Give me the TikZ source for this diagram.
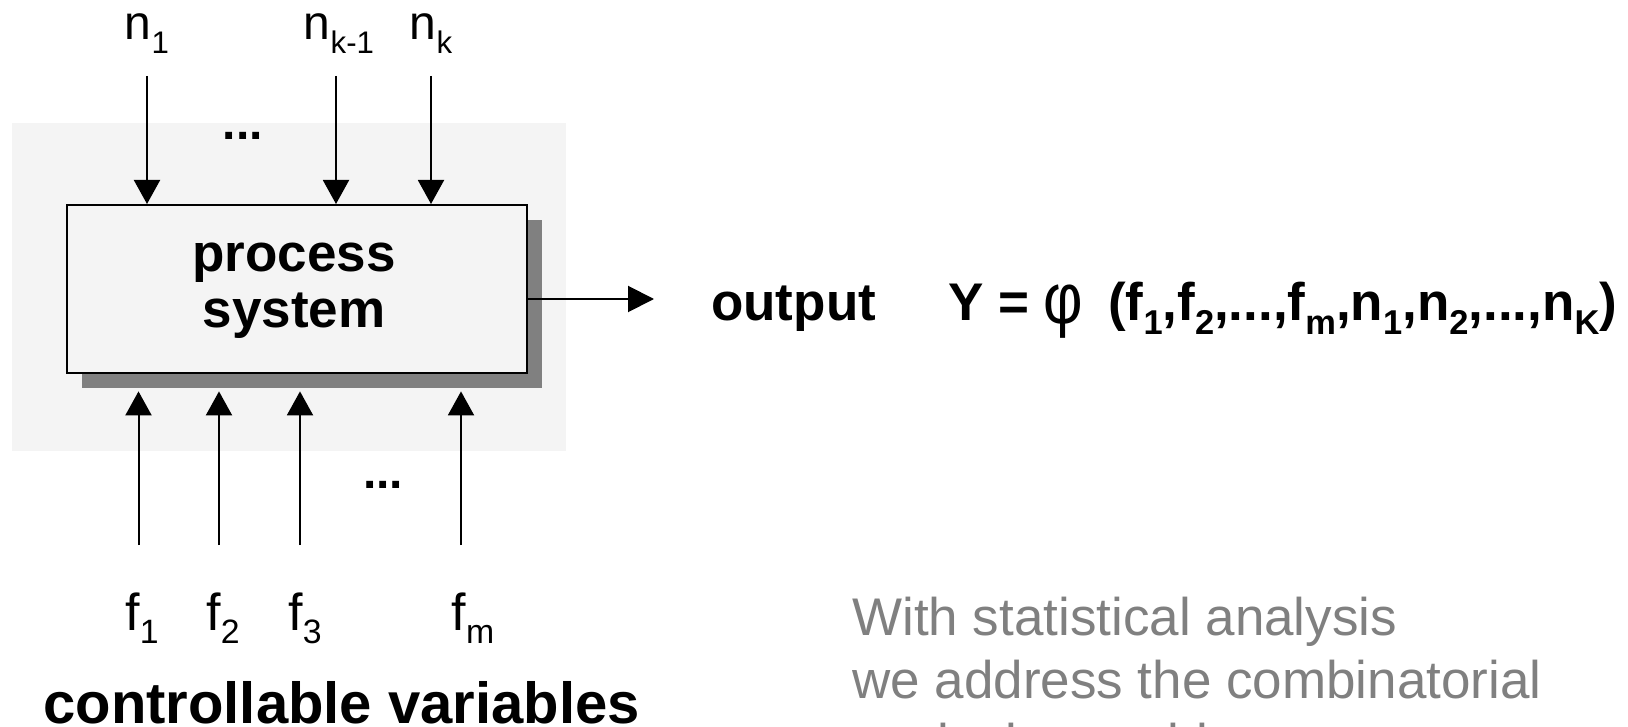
\documentclass[tikz,border=0pt]{standalone}
\usepackage{fontspec}
\usepackage{graphicx}
\setmainfont{Liberation Sans}
\usetikzlibrary{arrows.meta}
\definecolor{bggray}{HTML}{F4F4F4}
\definecolor{shadowgray}{HTML}{808080}
\definecolor{textgray}{HTML}{808080}
\newcommand{\sbx}[1]{\raisebox{-0.28em}{\scalebox{0.65}{#1}}}
\newcommand{\sbf}[1]{\raisebox{-0.25em}{\scalebox{0.65}{#1}}}
\begin{document}
\begin{tikzpicture}[x=1pt,y=-1pt,
  conn/.style={line width=2pt,-{Triangle[length=24pt,width=26pt]}},
  nlbl/.style={inner sep=0pt,anchor=base,font=\fontsize{48}{58}\selectfont},
  flbl/.style={inner sep=0pt,anchor=base,font=\fontsize{52}{62}\selectfont},
  boldtext/.style={inner sep=0pt,font=\fontsize{53}{60}\selectfont\bfseries},
  dotsty/.style={inner sep=0pt,anchor=base,font=\fontsize{48}{58}\selectfont\bfseries},
  graytext/.style={inner sep=0pt,anchor=base west,text=textgray,font=\fontsize{53}{64}\selectfont}
]
\clip (0,0) rectangle (1628,727);
\fill[white] (0,0) rectangle (1628,727);
\fill[bggray] (12,123) rectangle (566,451);
\node[fill=shadowgray, minimum width=460pt, minimum height=168pt, inner sep=0pt, anchor=north west] (shadow) at (82,220) {};
\node[draw, line width=2pt, fill=bggray, minimum width=460pt, minimum height=168pt, inner sep=0pt, anchor=north west] (box) at (66,204) {};
\node[boldtext, anchor=base] (p1) at (294,272) {process};
\node[boldtext, anchor=base] (p2) at (294,327) {system};

% top labels (noise factors)
\node[nlbl] (n1) at (147,40) {n\sbx{1}};
\node[nlbl] (nk1) at (339,40) {n\sbx{k-1}};
\node[nlbl] (nk) at (431,40) {n\sbx{k}};
\node[dotsty] (dtop) at (243,140) {...};
\coordinate (a1) at (147,76);
\coordinate (a2) at (336,76);
\coordinate (a3) at (431,76);
\draw[conn] (a1) -- (box.north -| a1);
\draw[conn] (a2) -- (box.north -| a2);
\draw[conn] (a3) -- (box.north -| a3);

% bottom arrows (controllable)
\coordinate (b1) at (138.5,545);
\coordinate (b2) at (219,545);
\coordinate (b3) at (300,545);
\coordinate (b4) at (461,545);
\draw[conn,shorten >=3pt] (b1) -- (shadow.south -| b1);
\draw[conn,shorten >=3pt] (b2) -- (shadow.south -| b2);
\draw[conn,shorten >=3pt] (b3) -- (shadow.south -| b3);
\draw[conn,shorten >=3pt] (b4) -- (shadow.south -| b4);
\node[dotsty] (dbot) at (383,488) {...};
\node[flbl] (f1) at (142,630) {f\sbf{1}};
\node[flbl] (f2) at (223,630) {f\sbf{2}};
\node[flbl] (f3) at (305,630) {f\sbf{3}};
\node[flbl] (fm) at (473,630) {f\sbf{m}};
\node[inner sep=0pt, anchor=base, font=\fontsize{58}{64}\selectfont\bfseries] (cv) at (341.5,723) {controllable variables};

% output
\coordinate (os) at (526,299);
\coordinate (oe) at (654,299);
\draw[line width=2pt,-{Triangle[length=26pt,width=26pt]}] (os) -- (oe);
\node[boldtext, anchor=base west] (out) at (711,320) {output};
\node[boldtext, anchor=base west] (formula) at (948,320) {Y = {\mdseries\raisebox{-0.06em}{\scalebox{1.15}[1.35]{φ}}}\hspace{10pt}\ (f\sbx{1},f\sbx{2},...,f\sbx{m},n\sbx{1},n\sbx{2},...,n\sbx{K})};

% gray remark
\node[graytext] (g1) at (852,635) {With statistical analysis};
\node[graytext] (g2) at (852,698) {we address the combinatorial};
\node[graytext] (g3) at (852,761) {explosion problem};
\end{tikzpicture}
\end{document}
